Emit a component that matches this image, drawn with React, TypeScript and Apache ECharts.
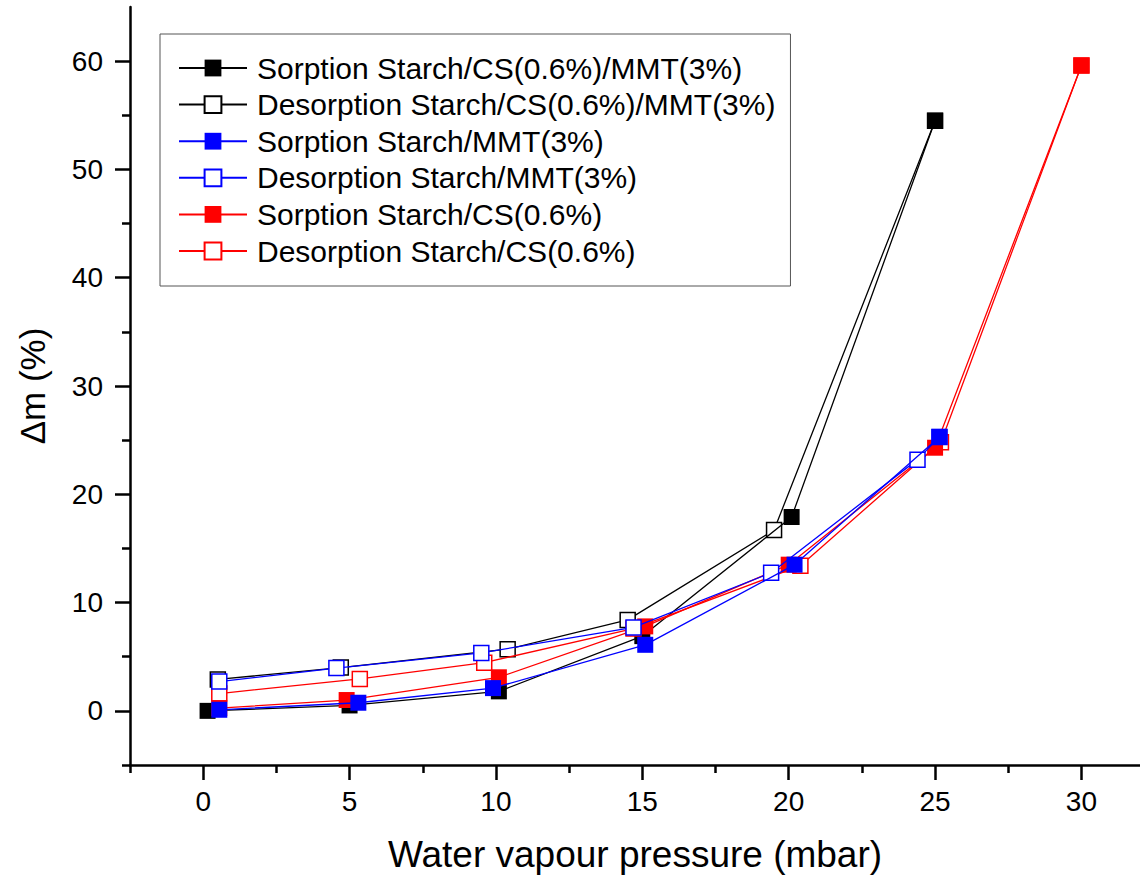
import React, { useEffect, useRef } from "react";
import * as echarts from "echarts";

const xMajorTicks = [0, 5, 10, 15, 20, 25, 30];
const xMinorTicks = [-2.5, 2.5, 7.5, 12.5, 17.5, 22.5, 27.5];
const yMajorTicks = [0, 10, 20, 30, 40, 50, 60];
const yMinorTicks = [-5, 5, 15, 25, 35, 45, 55];

const seriesNames = [
  "Sorption Starch/CS(0.6%)/MMT(3%)",
  "Desorption Starch/CS(0.6%)/MMT(3%)",
  "Sorption Starch/MMT(3%)",
  "Desorption Starch/MMT(3%)",
  "Sorption Starch/CS(0.6%)",
  "Desorption Starch/CS(0.6%)",
];

const blackSorpX = [0.15, 5.0, 10.1, 15.0, 20.1, 25.0];
const blackSorpY = [0.0, 0.5, 1.8, 6.9, 17.9, 54.5];
const blackDesX = [25.0, 19.5, 14.5, 10.4, 4.7, 0.5];
const blackDesY = [54.5, 16.7, 8.4, 5.7, 4.0, 2.9];
const blueSorpX = [0.55, 5.3, 9.9, 15.1, 20.2, 25.15];
const blueSorpY = [0.1, 0.75, 2.1, 6.1, 13.5, 25.3];
const blueDesX = [25.15, 24.4, 19.4, 14.7, 9.5, 4.55, 0.55];
const blueDesY = [25.3, 23.2, 12.75, 7.7, 5.35, 3.95, 2.7];
const redSorpX = [0.55, 4.9, 10.1, 15.1, 20.0, 25.0, 30.0];
const redSorpY = [0.25, 1.0, 3.1, 7.8, 13.5, 24.3, 59.6];
const redDesX = [30.0, 25.2, 20.4, 14.7, 9.6, 5.35, 0.55];
const redDesY = [59.6, 24.8, 13.4, 7.6, 4.45, 2.95, 1.6];

const zip = (xs: number[], ys: number[]) => xs.map((x, i) => [x, ys[i]]);

const FONT = "'Liberation Sans', Arial, sans-serif";

function makeSeries(
  name: string,
  xs: number[],
  ys: number[],
  color: string,
  filled: boolean,
  z: number
) {
  return {
    name,
    type: "line",
    data: zip(xs, ys),
    xAxisIndex: 0,
    yAxisIndex: 0,
    z,
    symbol: "rect",
    symbolSize: filled ? 16 : 15,
    lineStyle: { color, width: 1.3 },
    itemStyle: filled
      ? { color, borderColor: color, borderWidth: 0 }
      : { color: "#ffffff", borderColor: color, borderWidth: 1.5 },
    emphasis: { disabled: true },
  };
}

export default function App() {
  const ref = useRef<HTMLDivElement>(null);
  useEffect(() => {
    if (!ref.current) return;
    const chart = echarts.init(ref.current, undefined, { renderer: "svg" });
    const axisLine = {
      show: true,
      onZero: false,
      lineStyle: { color: "#000", width: 2.5 },
    };
    const tickStyle = { color: "#000", width: 2.5 };
    chart.setOption({
      animation: false,
      backgroundColor: "#fff",
      grid: { left: 130, top: 7, right: 0, bottom: 117, containLabel: false },
      legend: {
        orient: "vertical",
        left: 160,
        top: 34,
        padding: [19, 15, 20, 18],
        borderColor: "#555",
        borderWidth: 1,
        itemWidth: 68,
        itemHeight: 21,
        itemGap: 6.6,
        selectedMode: false,
        data: seriesNames,
        textStyle: {
          fontFamily: FONT,
          fontSize: 30,
          color: "#000",
          lineHeight: 30,
          padding: [0, 0, 0, 5],
        },
      },
      xAxis: [
        {
          type: "value",
          min: -2.5,
          max: 32,
          interval: 2.5,
          axisLine,
          splitLine: { show: false },
          axisTick: {
            show: true,
            length: 15,
            customValues: xMajorTicks,
            lineStyle: tickStyle,
          },
          axisLabel: {
            customValues: xMajorTicks,
            fontFamily: FONT,
            fontSize: 28,
            color: "#000",
            margin: 22,
          },
          name: "Water vapour pressure (mbar)",
          nameLocation: "middle",
          nameGap: 71,
          nameTextStyle: { fontFamily: FONT, fontSize: 37, color: "#000" },
        },
        {
          type: "value",
          min: -2.5,
          max: 32,
          interval: 2.5,
          position: "bottom",
          axisLine: { show: false, onZero: false },
          splitLine: { show: false },
          axisTick: {
            show: true,
            length: 8,
            customValues: xMinorTicks,
            lineStyle: tickStyle,
          },
          axisLabel: { show: false },
        },
      ],
      yAxis: [
        {
          type: "value",
          min: -5,
          max: 65,
          interval: 5,
          axisLine,
          splitLine: { show: false },
          axisTick: {
            show: true,
            length: 15,
            customValues: yMajorTicks,
            lineStyle: tickStyle,
          },
          axisLabel: {
            customValues: yMajorTicks,
            fontFamily: FONT,
            fontSize: 28,
            color: "#000",
            margin: 27,
          },
          name: "Δm (%)",
          nameLocation: "middle",
          nameGap: 80,
          nameRotate: 90,
          nameTextStyle: { fontFamily: FONT, fontSize: 35, color: "#000" },
        },
        {
          type: "value",
          min: -5,
          max: 65,
          interval: 5,
          position: "left",
          axisLine: { show: false, onZero: false },
          splitLine: { show: false },
          axisTick: {
            show: true,
            length: 8,
            customValues: yMinorTicks,
            lineStyle: tickStyle,
          },
          axisLabel: { show: false },
        },
      ],
      series: [
        makeSeries(seriesNames[0], blackSorpX, blackSorpY, "#000000", true, 3),
        makeSeries(seriesNames[1], blackDesX, blackDesY, "#000000", false, 2),
        makeSeries(seriesNames[2], blueSorpX, blueSorpY, "#0000ff", true, 7),
        makeSeries(seriesNames[3], blueDesX, blueDesY, "#0000ff", false, 6),
        makeSeries(seriesNames[4], redSorpX, redSorpY, "#ff0000", true, 5),
        makeSeries(seriesNames[5], redDesX, redDesY, "#ff0000", false, 4),
      ],
    });
    return () => chart.dispose();
  }, []);
  return (
    <div
      ref={ref}
      style={{ position: "fixed", left: 0, top: 0, width: 1140, height: 882 }}
    />
  );
}
